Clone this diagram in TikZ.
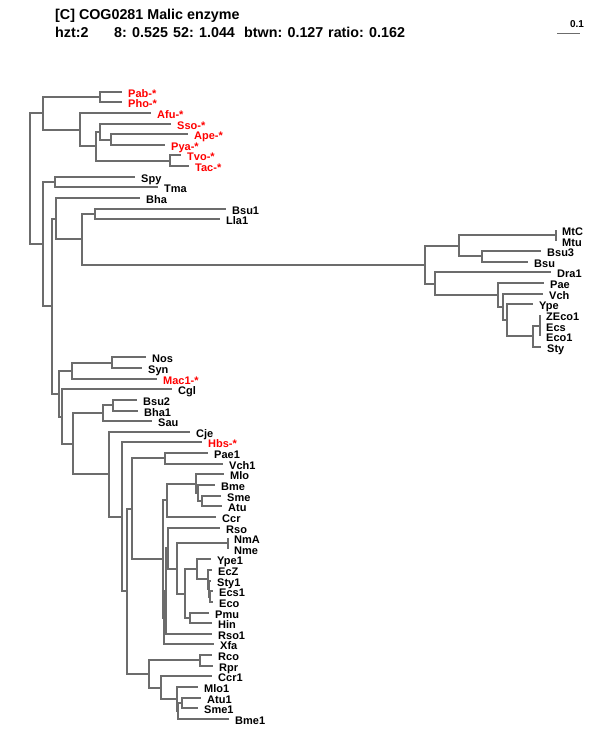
\documentclass[tikz,border=0pt]{standalone}
\usepackage{fontspec}
\setmainfont{Liberation Sans}
\usetikzlibrary{positioning}
\definecolor{treegray}{RGB}{108,108,108}
\definecolor{archred}{RGB}{255,0,0}

\begin{document}
\begin{tikzpicture}[x=1pt,y=-1pt,
    branch/.style={draw=treegray, line width=2pt},
    leaf/.style={anchor=base west, inner sep=0pt, font=\bfseries\fontsize{11}{11}\selectfont},
    hdr/.style={anchor=base west, inner sep=0pt, font=\bfseries\fontsize{14.3}{14.3}\selectfont}]
  \useasboundingbox (0,0) rectangle (600,750);

  % Header lines
  \node[hdr] (title) at (55,19) {[C] COG0281 Malic enzyme};
  \node[hdr] (hzt) at (55,37) {hzt:2};
  \node[hdr] (eight) at (114,37) {8: 0.525};
  \node[hdr] (fiftytwo) at (173,37) {52: 1.044};
  \node[hdr] (btwn) at (244,37) {btwn: 0.127};
  \node[hdr] (ratio) at (328,37) {ratio: 0.162};

  % Scale bar
  \coordinate (sbl) at (557,33);
  \coordinate (sbr) at (580,33);
  \draw[line width=1pt, treegray] (sbl) -- (sbr);
  \node[leaf, anchor=base, font=\bfseries\fontsize{10}{10}\selectfont] (sblab) at (577,27) {0.1};

  % Red leaves (name/tip x/row/label)
  \foreach \nm/\x/\i/\txt in {pab/122/0/Pab-*, pho/122/1/Pho-*, afu/151/2/Afu-*,
      sso/171/3/Sso-*, ape/188/4/Ape-*, pya/165/5/Pya-*, tvo/181/6/Tvo-*,
      tac/189/7/Tac-*, mac1/157/27/Mac1-*, hbs/202/33/Hbs-*}{
    \coordinate (\nm) at (\x,{round(91.7+10.63*\i)});
    \node[leaf, text=archred] (\nm lab) at ([xshift=6pt,yshift=-5pt]\nm) {\txt};
  }

  % Black leaves
  \foreach \nm/\x/\i/\txt in {spy/135/8/Spy, tma/158/9/Tma, bha/140/10/Bha,
      bsu1/226/11/Bsu1, lla1/220/12/Lla1, mtc/556/13/MtC, mtu/556/14/Mtu,
      bsu3/541/15/Bsu3, bsu/528/16/Bsu, dra1/551/17/Dra1, pae/544/18/Pae,
      vch/543/19/Vch, ype/533/20/Ype, zeco1/540/21/ZEco1, ecs/540/22/Ecs,
      eco1/540/23/Eco1, sty/541/24/Sty, nos/146/25/Nos, syn/142/26/Syn,
      cgl/172/28/Cgl, bsu2/137/29/Bsu2, bha1/138/30/Bha1, sau/152/31/Sau,
      cje/190/32/Cje, pae1/208/34/Pae1, vch1/223/35/Vch1, mlo/224/36/Mlo,
      bme/215/37/Bme, sme/221/38/Sme, atu/222/39/Atu, ccr/216/40/Ccr,
      rso/220/41/Rso, nma/228/42/NmA, nme/228/43/Nme, ype1/211/44/Ype1,
      ecz/212/45/EcZ, sty1/211/46/Sty1, ecs1/213/47/Ecs1, eco/213/48/Eco,
      pmu/209/49/Pmu, hin/212/50/Hin, rso1/212/51/Rso1, xfa/214/52/Xfa,
      rco/212/53/Rco, rpr/213/54/Rpr, ccr1/212/55/Ccr1, mlo1/198/56/Mlo1,
      atu1/201/57/Atu1, sme1/198/58/Sme1, bme1/229/59/Bme1}{
    \coordinate (\nm) at (\x,{round(91.7+10.63*\i)});
    \node[leaf] (\nm lab) at ([xshift=6pt,yshift=-5pt]\nm) {\txt};
  }

  % Inner nodes (name/x/y)
  \foreach \nm/\x/\y in {root/30/179, ar/43/113, pp/100/97,
      af/80/130, a2/96/146, b2/100/132, c3/111/140, d2/170/161,
      n43/43/244, st/55/182, n52/52/306, n56/56/219,
      n82/82/239, bl/95/214, bn/425/265, ta/459/246,
      mm/556/235, bb/482/256, dp/435/284, pv/498/295,
      vv/503/307, yy/507/320, ee/533/336, ze/540/326,
      n59/59/394, nm/72/371, ns/112/363, n62/62/417,
      n73/73/444, bs/103/413, b2b/113/405, n109/109/474,
      n122/122/517, n127/127/591, n132/132/509, pv1/165/458,
      mx/163/559, nc/167/500, mc/196/484, mb/198/493,
      sa/202/501, nx/164/618, r1/166/591, nr/168/548,
      nn/177/569, nmn/228/543, e1/185/594, y1/197/569,
      z1/208/579, z2/209/589, z3/210/597, ph/190/618,
      rc/149/674, rr/200/660, cm/161/688, ma/177/699,
      ma2/178/711, as/182/703}{
    \coordinate (\nm) at (\x,\y);
  }

  % Branches (parent/child)
  \foreach \p/\c in {root/ar, root/n43, ar/pp, ar/af, pp/pab, pp/pho,
      af/afu, af/a2, a2/b2, a2/d2, b2/sso, b2/c3, c3/ape, c3/pya,
      d2/tvo, d2/tac, n43/st, n43/n52, st/spy, st/tma, n52/n56, n52/n59,
      n56/bha, n56/n82, n82/bl, n82/bn, bl/bsu1, bl/lla1, bn/ta, bn/dp,
      ta/mm, ta/bb, mm/mtc, mm/mtu, bb/bsu3, bb/bsu, dp/dra1, dp/pv,
      pv/pae, pv/vv, vv/vch, vv/yy, yy/ype, yy/ee, ee/ze, ee/sty,
      ze/zeco1, ze/ecs, ze/eco1, n59/nm, n59/n62, nm/ns, nm/mac1,
      ns/nos, ns/syn, n62/cgl, n62/n73, n73/bs, n73/n109, bs/b2b, bs/sau,
      b2b/bsu2, b2b/bha1, n109/cje, n109/n122, n122/hbs, n122/n127,
      n127/n132, n127/rc, n132/pv1, n132/mx, pv1/pae1, pv1/vch1,
      mx/nc, mx/nx, nc/mc, nc/ccr, mc/mlo, mc/mb, mb/bme, mb/sa,
      sa/sme, sa/atu, nx/r1, nx/xfa, r1/nr, r1/rso1, nr/rso, nr/nn,
      nn/nmn, nn/e1, nmn/nma, nmn/nme, e1/y1, e1/ph, y1/ype1, y1/z1,
      z1/ecz, z1/z2, z2/sty1, z2/z3, z3/ecs1, z3/eco, ph/pmu, ph/hin,
      rc/rr, rc/cm, rr/rco, rr/rpr, cm/ccr1, cm/ma, ma/mlo1, ma/ma2,
      ma2/as, ma2/bme1, as/atu1, as/sme1}{
    \draw[branch] (\p) |- (\c);
  }
\end{tikzpicture}
\end{document}
